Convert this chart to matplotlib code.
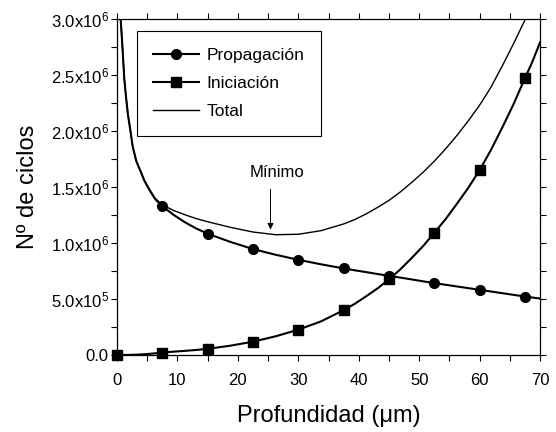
import matplotlib
matplotlib.use("Agg")
import matplotlib.pyplot as plt
from matplotlib import rcParams
from matplotlib.lines import Line2D
from matplotlib.ticker import MultipleLocator, FuncFormatter
import numpy as np

config = {
    "font.family": ['Liberation Sans', 'DejaVu Sans'],
    "mathtext.fontset": 'custom',
    "mathtext.rm": 'Liberation Sans',
    "mathtext.default": 'regular',
}
rcParams.update(config)

# puntos con marcador (um, ciclos x1e6)
depth_marks = [0, 7.5, 15, 22.5, 30, 37.5, 45, 52.5, 60, 67.5]
prop_marks = [np.nan, 1.328, 1.083, 0.946, 0.850, 0.773, 0.707, 0.642, 0.582, 0.522]
init_marks = [0.0, 0.022, 0.055, 0.119, 0.226, 0.40, 0.675, 1.09, 1.65, 2.47]

# curvas (ciclos x1e6)
depth_curve = [0, 0.6, 0.75, 0.9, 1.2, 1.5, 1.8, 2.2, 2.6, 3.2, 3.9, 4.5, 5.3, 6.3, 7.5,
               9.4, 11.25, 13.1, 15, 18.75, 22.5, 26.25, 30, 33.75, 37.5,
               39.375, 41.25, 43.125, 45, 46.875, 48.75, 50.625, 52.5, 54.375,
               56.25, 58.125, 60, 61.875, 63.75, 65.625, 67.5, 68.75, 70]
prop_curve = [np.nan, 3.00, 2.88, 2.75, 2.47, 2.30, 2.15, 2.01, 1.86, 1.73, 1.64,
              1.56, 1.48, 1.393, 1.328,
              1.25, 1.185, 1.13, 1.083, 1.01, 0.946, 0.895, 0.850, 0.81, 0.773,
              0.756, 0.74, 0.723, 0.707, 0.691, 0.675, 0.658, 0.642, 0.627,
              0.612, 0.597, 0.582, 0.567, 0.552, 0.537, 0.522, 0.513, 0.504]
init_curve = [0.0, 0, 0, 0, 0, 0.001, 0.001, 0.001, 0.002, 0.003, 0.005, 0.007,
              0.01, 0.015, 0.022,
              0.03, 0.037, 0.045, 0.055, 0.083, 0.119, 0.167, 0.226, 0.30, 0.40,
              0.458, 0.525, 0.595, 0.675, 0.764, 0.865, 0.971, 1.09, 1.213,
              1.35, 1.492, 1.65, 1.83, 2.03, 2.24, 2.47, 2.62, 2.79]
total_curve = [np.nan, 3.00, 2.88, 2.75, 2.47, 2.30, 2.15, 2.01, 1.86, 1.73, 1.64,
               1.56, 1.485, 1.40, 1.34,
               1.29, 1.252, 1.218, 1.19, 1.14, 1.098, 1.074, 1.078, 1.11, 1.17,
               1.21, 1.26, 1.318, 1.38, 1.455, 1.54, 1.63, 1.73, 1.84,
               1.96, 2.09, 2.23, 2.39, 2.58, 2.78, 2.99, 3.13, 3.29]

labels = ['Propagación', 'Iniciación', 'Total']

x = np.array(depth_curve)

fig = plt.figure(figsize=(5.56, 4.32), dpi=100)
ax = fig.add_axes([117/556, 77/432, 423/556, 336/432])

ax.plot(x, np.array(prop_curve) * 1e6, color='k', lw=1.5)
ax.plot(x, np.array(init_curve) * 1e6, color='k', lw=1.5)
ax.plot(x, np.array(total_curve) * 1e6, color='k', lw=1.0)
ax.plot(depth_marks, np.array(prop_marks) * 1e6, 'o', color='k', ms=7, clip_on=False)
ax.plot(depth_marks, np.array(init_marks) * 1e6, 's', color='k', ms=6.5, clip_on=False)

ax.set_xlim(0, 70)
ax.set_ylim(0, 3e6)
ax.xaxis.set_major_locator(MultipleLocator(10))
ax.xaxis.set_minor_locator(MultipleLocator(5))
ax.yaxis.set_major_locator(MultipleLocator(5e5))
ax.yaxis.set_minor_locator(MultipleLocator(2.5e5))


def fmt(v, pos):
    if abs(v) < 1:
        return '0.0'
    if v < 0:
        return ''
    e = int(np.floor(np.log10(v)))
    return r'$%.1fx10^{%d}$' % (v / 10**e, e)


ax.yaxis.set_major_formatter(FuncFormatter(fmt))
ax.tick_params(which='both', direction='out', top=True, right=True,
               length=4, width=0.8, labelsize=12)
ax.tick_params(axis='x', pad=9)
ax.tick_params(axis='y', pad=2)
for s in ax.spines.values():
    s.set_linewidth(0.9)

ax.set_xlabel('Profundidad (μm)', fontsize=17, labelpad=12)
ax.set_ylabel('Nº de ciclos', fontsize=17, labelpad=8)

ax.text(26.5, 1.63e6, 'Mínimo', ha='center', va='center', fontsize=12)
ax.annotate('', xy=(25.4, 1.12e6), xytext=(25.4, 1.48e6),
            arrowprops=dict(arrowstyle='-|>', color='k', lw=0.7,
                            mutation_scale=9, shrinkA=0, shrinkB=0))

handles = [Line2D([], [], color='k', lw=1.5, marker='o', ms=7),
           Line2D([], [], color='k', lw=1.5, marker='s', ms=6.5),
           Line2D([], [], color='k', lw=1.0)]
leg = ax.legend(handles, labels, loc='upper left', bbox_to_anchor=(0.047, 0.964),
                borderaxespad=0, fontsize=12.5, handlelength=2.6,
                handletextpad=0.45, labelspacing=0.75, borderpad=0.95,
                fancybox=False, framealpha=1)
leg.get_frame().set_edgecolor('k')
leg.get_frame().set_linewidth(0.8)

fig.savefig('out.png', dpi=100)
